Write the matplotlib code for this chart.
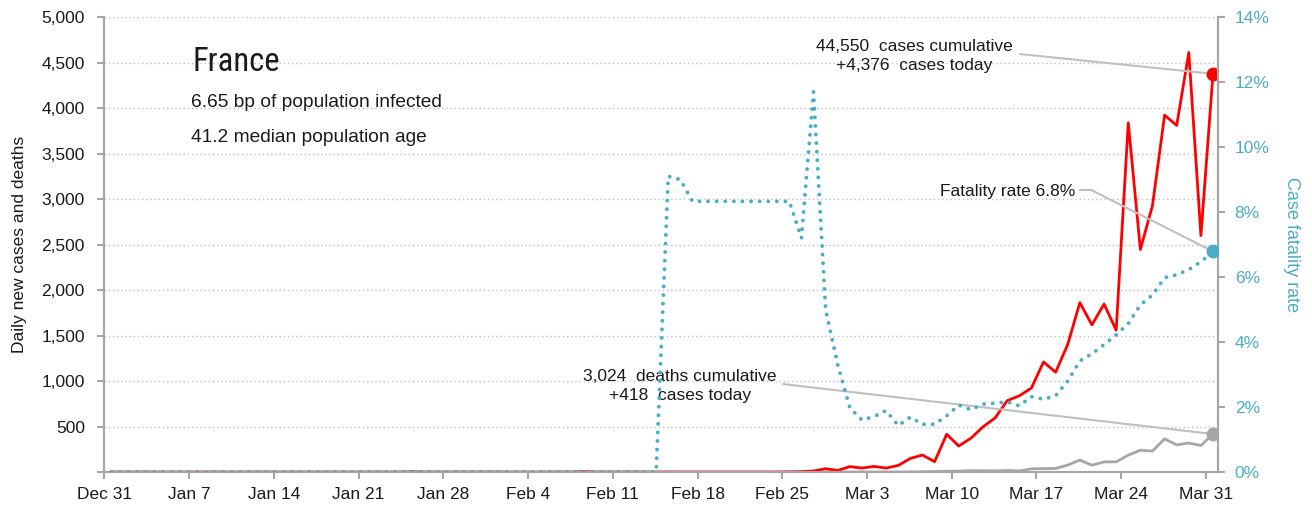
import matplotlib
matplotlib.use('Agg')
import matplotlib.pyplot as plt
import matplotlib.ticker as ticker
import pandas as pd

# ── Data ───────────────────────────────────────────────────────────────────────
# one value per day, Dec 31 2019 .. Mar 31 2020
new_cases = [0] * 25 + [3, 0, 0, 0, 1, 0, 1] + [0] * 7 + [5] + [0] * 3 + [1] + [0] * 12 + [
    2, 4, 12, 37, 18, 60, 44, 62, 44, 73, 150, 187, 114, 415, 286, 372, 497, 595,
    785, 838, 924, 1210, 1097, 1404, 1861, 1617, 1847, 1559, 3838, 2446, 2929,
    3922, 3809, 4611, 2599, 4376]
new_deaths = [0] * 46 + [1] + [0] * 10 + [1] + [0] * 4 + [1, 0, 1, 0, 2, 3, 7, 9, 11, 15, 15,
    13, 18, 12, 36, 38, 40, 77, 132, 75, 112, 112, 186, 240, 231, 365, 299, 319,
    292, 418]
fatality_rate = [0.0] * 46 + [9.1, 9.0] + [8.33] * 9 + [
    7.2, 11.7, 5.0, 3.3, 1.98, 1.60, 1.71, 1.89, 1.43, 1.69, 1.47, 1.47, 1.73, 2.06,
    1.92, 2.09, 2.12, 2.16, 2.04, 2.32, 2.24, 2.35, 2.80, 3.42, 3.64, 3.92, 4.22,
    4.57, 5.14, 5.45, 5.98, 6.07, 6.23, 6.47, 6.79]

tick_labels = ['Dec 31', 'Jan 7', 'Jan 14', 'Jan 21', 'Jan 28', 'Feb 4', 'Feb 11',
               'Feb 18', 'Feb 25', 'Mar 3', 'Mar 10', 'Mar 17', 'Mar 24', 'Mar 31']

country = 'France'
info_lines = ['6.65 bp of population infected', '41.2 median population age']
cases_note = '44,550  cases cumulative\n+4,376  cases today'
deaths_note = '3,024  deaths cumulative\n+418  cases today'
rate_note = 'Fatality rate 6.8%'

# ── Style ──────────────────────────────────────────────────────────────────────
RED = '#FF0000'
GREY = '#A6A6A6'
BLUE = '#4BACC6'
LEADER = '#BFBFBF'
SPINE = '#A6A6A6'
TEXT = '#1A1A1A'
plt.rcParams['font.family'] = ['Liberation Sans', 'DejaVu Sans']

dates = pd.date_range('2019-12-31 14:00', periods=len(new_cases), freq='D')
tick_dates = pd.date_range('2019-12-31', periods=len(tick_labels), freq='7D')

fig = plt.figure(figsize=(13.12, 5.12), dpi=100)
ax = fig.add_axes([0.0795, 0.078, 0.8489, 0.8887])
ax2 = ax.twinx()

ax.plot(dates, new_deaths, color=GREY, lw=2, zorder=2)
ax.plot(dates, new_cases, color=RED, lw=2, zorder=3)
ax.plot(dates[-1:], new_cases[-1:], 'o', color=RED, ms=9, zorder=4)
ax.plot(dates[-1:], new_deaths[-1:], 'o', color=GREY, ms=9, zorder=4)

ax2.plot(dates, fatality_rate, color=BLUE, lw=2.8, linestyle=(0, (0.01, 2.2)),
         dash_capstyle='round', zorder=3)
ax2.plot(dates[-1:], fatality_rate[-1:], 'o', color=BLUE, ms=9, zorder=4)

# axes
ax.set_xlim(pd.Timestamp('2019-12-31'), pd.Timestamp('2020-04-01'))
ax.set_ylim(0, 5000)
ax2.set_ylim(0, 14)
ax.set_xticks(tick_dates)
ax.set_xticklabels(tick_labels)
ax.set_yticks(range(0, 5001, 500))
ax.yaxis.set_major_formatter(ticker.FuncFormatter(
    lambda v, p: f'{v:,.0f}' if v > 0 else ''))
ax2.set_yticks(range(0, 15, 2))
ax2.yaxis.set_major_formatter(ticker.FuncFormatter(lambda v, p: f'{v:.0f}%'))

ax.yaxis.grid(True, color='#BFBFBF', lw=1, linestyle=(0, (1, 2)))
ax.set_axisbelow(True)
for a in (ax, ax2):
    a.spines['top'].set_visible(False)
    for s in ('left', 'right', 'bottom'):
        a.spines[s].set_color(SPINE)
        a.spines[s].set_linewidth(1.5)
ax.tick_params(axis='both', colors=SPINE, labelcolor=TEXT, labelsize=12.5,
               length=5, width=1.5)
ax.tick_params(axis='y', pad=9)
ax.tick_params(axis='x', pad=6)
ax2.tick_params(axis='y', colors=SPINE, labelcolor=BLUE, labelsize=12.5,
                length=5, width=1.5, pad=7)

ax.set_ylabel('Daily new cases and deaths', fontsize=12.5, color=TEXT, labelpad=10)
ax2.set_ylabel('Case fatality rate', fontsize=13, color=BLUE, rotation=-90,
               labelpad=22)

# header text
ax.text(0.0796, 0.901, country, transform=ax.transAxes, fontsize=23.5,
        family=['Roboto Condensed', 'Liberation Sans Narrow', 'Liberation Sans'],
        color=TEXT, ha='left', va='center')
ax.text(0.0778, 0.813, info_lines[0], transform=ax.transAxes, fontsize=13.8,
        color=TEXT, ha='left', va='center')
ax.text(0.0778, 0.736, info_lines[1], transform=ax.transAxes, fontsize=13.8,
        color=TEXT, ha='left', va='center')

# callouts with leader lines
ax.text(0.727, 0.914, cases_note, transform=ax.transAxes, fontsize=12.5,
        color=TEXT, ha='center', va='center', linespacing=1.3)
ax.annotate('', xy=(dates[-1], new_cases[-1]), xytext=(0.8222, 0.9187),
            textcoords='axes fraction',
            arrowprops=dict(arrowstyle='-', color=LEADER, lw=1.5,
                            shrinkA=0, shrinkB=0))

ax.text(0.517, 0.189, deaths_note, transform=ax.transAxes, fontsize=12.5,
        color=TEXT, ha='center', va='center', linespacing=1.3)
ax.annotate('', xy=(dates[-1], new_deaths[-1]), xytext=(0.6094, 0.1934),
            textcoords='axes fraction',
            arrowprops=dict(arrowstyle='-', color=LEADER, lw=1.5,
                            shrinkA=0, shrinkB=0))

ax2.text(0.8718, 0.6176, rate_note, transform=ax2.transAxes, fontsize=12.5,
         color=TEXT, ha='right', va='center')
ax2.plot([0.8763, 0.8862], [0.6198, 0.6198], transform=ax2.transAxes,
         color=LEADER, lw=1.5)
ax2.annotate('', xy=(dates[-1], fatality_rate[-1]), xytext=(0.8862, 0.6198),
             textcoords='axes fraction',
             arrowprops=dict(arrowstyle='-', color=LEADER, lw=1.5,
                             shrinkA=0, shrinkB=0))

fig.savefig('out.png', dpi=100)
